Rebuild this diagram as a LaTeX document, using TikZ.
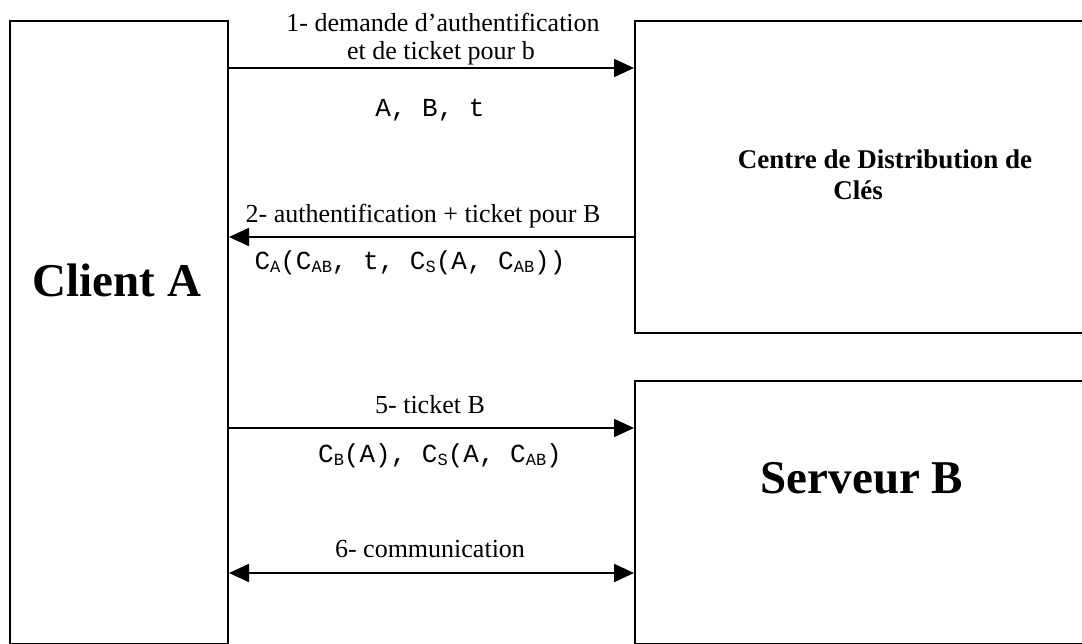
\documentclass[tikz,border=0pt]{standalone}
\usepackage{fontspec}
\setmainfont{Liberation Serif}
\setmonofont{Liberation Mono}
\usetikzlibrary{arrows.meta}
\newcommand{\subtxt}[1]{\raisebox{-3pt}{\fontsize{17}{17}\selectfont #1}}
\begin{document}
\begin{tikzpicture}[x=1pt,y=-1pt,
  box/.style={draw, line width=2pt, inner sep=0pt, anchor=north west},
  lbl/.style={font=\fontsize{26}{30}\selectfont, anchor=base, inner sep=0pt},
  code/.style={font=\ttfamily\fontsize{26}{30}\selectfont, anchor=base, inner sep=0pt},
  big/.style={font=\bfseries\fontsize{47}{52}\selectfont, anchor=base, inner sep=0pt},
  mid/.style={font=\bfseries\fontsize{27}{31}\selectfont, anchor=base, inner sep=0pt},
  tip/.style={Triangle[length=20pt,width=18pt]},
  arr/.style={line width=2pt, -{Triangle[length=20pt,width=18pt]}},
  darr/.style={line width=2pt, {Triangle[length=20pt,width=18pt]}-{Triangle[length=20pt,width=18pt]}}]
\clip (0,0) rectangle (1082,644);
\fill[white] (0,0) rectangle (1082,644);

% boxes
\node[box, minimum width=218pt, minimum height=623pt] (client) at (9,20) {};
\node[box, minimum width=500pt, minimum height=312pt] (kdc) at (634,20) {};
\node[box, minimum width=500pt, minimum height=263pt] (serv) at (634,380) {};

% box labels
\node[big] (clientlbl) at (117,297) {Client A};
\node[mid] (kdclbl1) at (885,169) {Centre de Distribution de};
\node[mid] (kdclbl2) at (858,200) {Clés};
\node[big] (servlbl) at (862,493) {Serveur B};

% connectors
\coordinate (y1) at (0,68);
\coordinate (y2) at (0,237);
\coordinate (y5) at (0,428);
\coordinate (y6) at (0,573);
\draw[arr] (client.east |- y1) -- (kdc.west |- y1);
\draw[arr] (kdc.west |- y2) -- (client.east |- y2);
\draw[arr] (client.east |- y5) -- (serv.west |- y5);
\draw[darr] (client.east |- y6) -- (serv.west |- y6);

% connector labels
\node[lbl] (l1a) at (443,32) {1- demande d’authentification};
\node[lbl] (l1b) at (441,60) {et de ticket pour b};
\node[code] (c1) at (430,117) {A, B, t};
\node[lbl] (l2) at (423,223) {2- authentification + ticket pour B};
\node[code] (c2) at (410,270) {C\subtxt{A}(C\subtxt{AB}, t, C\subtxt{S}(A, C\subtxt{AB}))};
\node[lbl] (l5) at (430,413) {5- ticket B};
\node[code] (c5) at (440,462) {C\subtxt{B}(A), C\subtxt{S}(A, C\subtxt{AB})};
\node[lbl] (l6) at (430,557) {6- communication};
\end{tikzpicture}
\end{document}
